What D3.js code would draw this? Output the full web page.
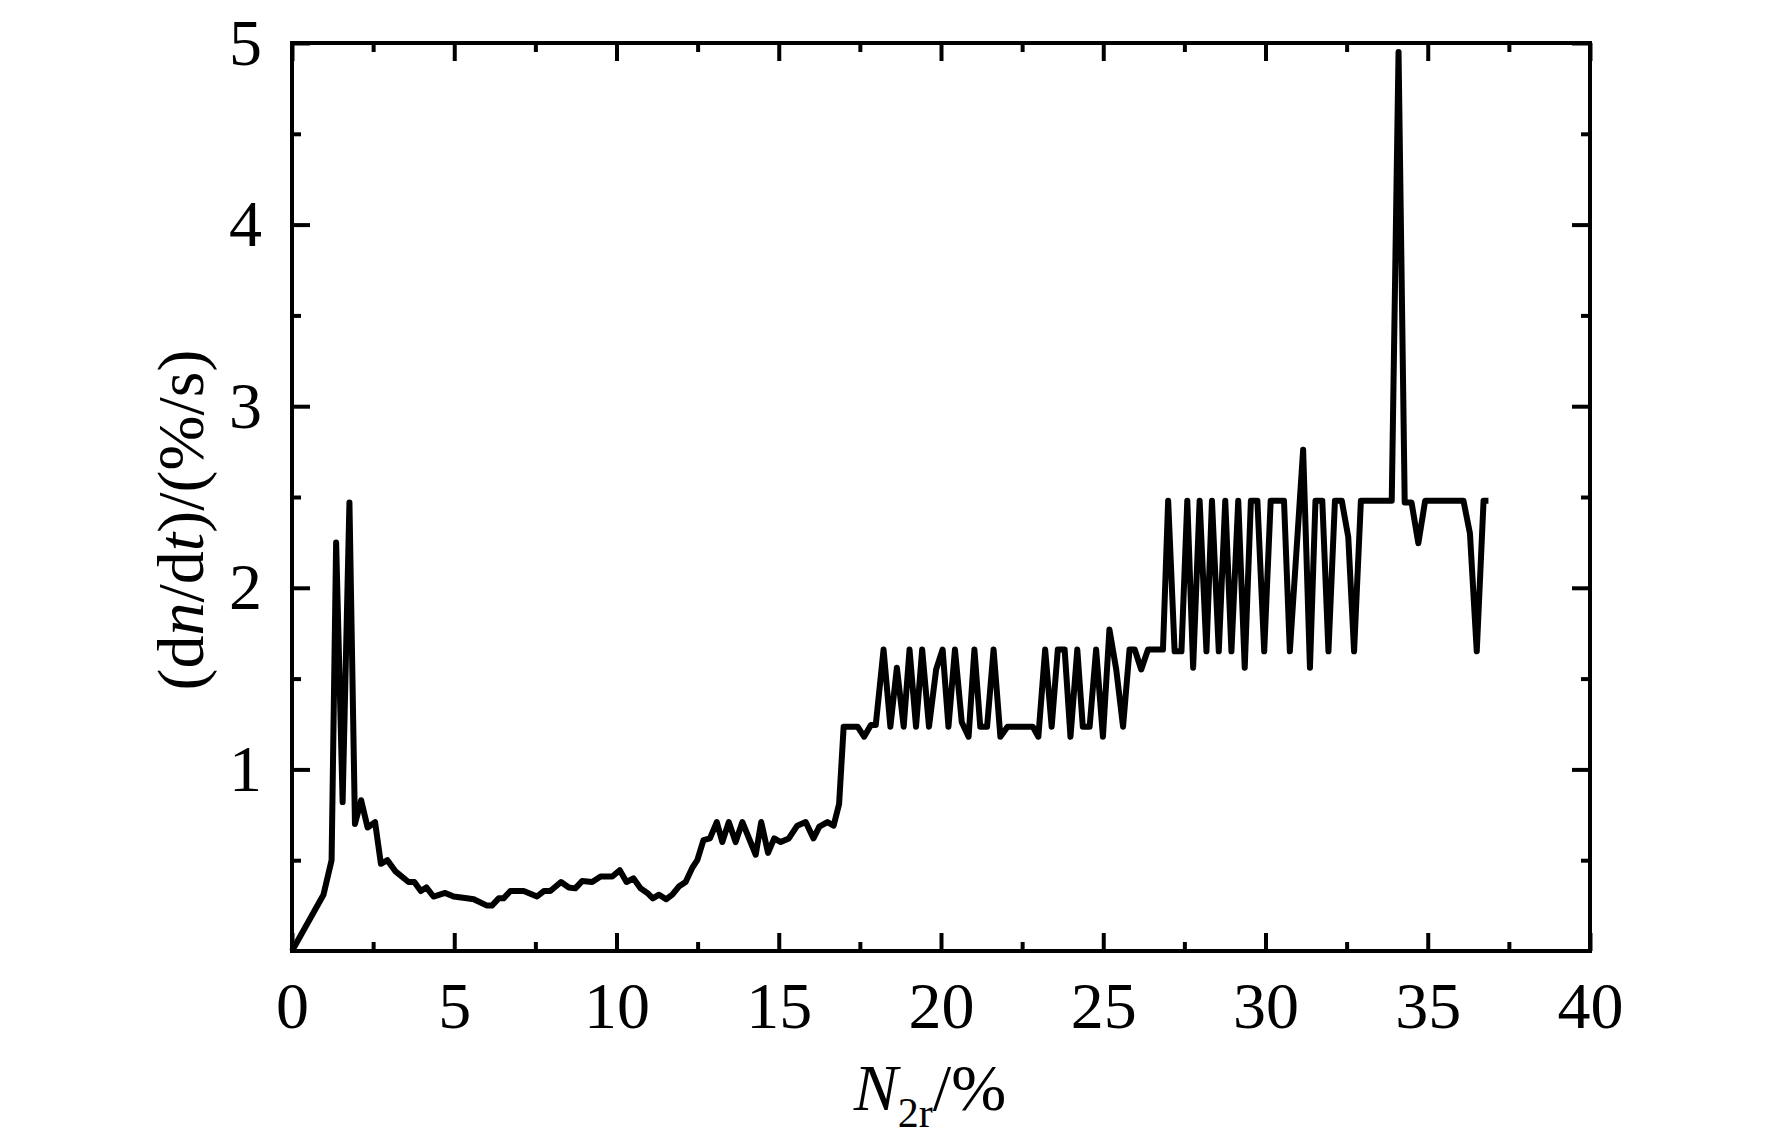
<!DOCTYPE html>
<html>

<head>
  <script src="https://d3js.org/d3.v7.min.js"></script>
  <style>
    body {
      margin: 0;
      background: #fff;
    }

    .chart text {
      font-family: "Liberation Serif", "Times New Roman", serif;
      fill: #000;
    }

    .axis path {
      display: none;
    }

    .axis line {
      stroke: #000;
      stroke-width: 4;
    }

    .tick-label {
      font-size: 66px;
    }

    .axis-label {
      font-size: 66px;
    }
  </style>
</head>

<body>
  <div id="chart"></div>

  <script>
    // N2r (%) readings
    const n2r = [
      0, 0.97, 1.22, 1.36, 1.56, 1.77, 1.94, 2.13, 2.33, 2.56, 2.74, 2.94, 3.18, 3.59, 3.77, 3.97,
      4.14, 4.36, 4.72, 4.98, 5.39, 5.60, 6.01, 6.16, 6.37, 6.52, 6.73, 7.14, 7.55, 7.76, 7.96,
      8.29, 8.53, 8.73, 8.94, 9.25, 9.51, 9.87, 10.10, 10.31, 10.52, 10.74, 10.95, 11.12, 11.31,
      11.53, 11.72, 11.92, 12.13, 12.34, 12.49, 12.68, 12.88, 13.09, 13.26, 13.46, 13.67, 13.88,
      14.29, 14.46, 14.67, 14.86, 15.06, 15.31, 15.57, 15.83, 16.07, 16.25, 16.50, 16.69, 16.86,
      17.0, 17.43, 17.63, 17.84, 17.99, 18.23, 18.44, 18.64, 18.85, 19.03, 19.23, 19.42, 19.63,
      19.85, 20.05, 20.23, 20.43, 20.64, 20.85, 21.03, 21.21, 21.42, 21.62, 21.83, 22.05, 22.83,
      23.0, 23.21, 23.41, 23.60, 23.81, 23.99, 24.20, 24.37, 24.58, 24.78, 24.99, 25.19, 25.40,
      25.61, 25.81, 25.97, 26.17, 26.38, 26.84, 27.0, 27.2, 27.41, 27.59, 27.77, 27.97, 28.18,
      28.35, 28.56, 28.76, 28.95, 29.16, 29.36, 29.55, 29.75, 29.96, 30.16, 30.57, 30.75, 31.16,
      31.37, 31.54, 31.75, 31.94, 32.14, 32.35, 32.55, 32.73, 32.94, 33.89, 34.1, 34.29, 34.5,
      34.71, 34.92, 36.1, 36.3, 36.51, 36.72, 36.87
    ];

    // dn/dt (%/s) readings, same order as n2r
    const rate = [
      0, 0.31, 0.50, 2.25, 0.82, 2.47, 0.70, 0.83, 0.68, 0.71, 0.48, 0.50, 0.44, 0.38, 0.38, 0.33,
      0.35, 0.30, 0.32, 0.30, 0.29, 0.285, 0.25, 0.25, 0.29, 0.29, 0.33, 0.33, 0.30, 0.33, 0.33,
      0.38, 0.35, 0.345, 0.385, 0.38, 0.41, 0.41, 0.445, 0.38, 0.40, 0.345, 0.32, 0.29, 0.31,
      0.285, 0.31, 0.355, 0.38, 0.46, 0.50, 0.61, 0.62, 0.71, 0.60, 0.71, 0.60, 0.71,
      0.53, 0.71, 0.54, 0.62, 0.60, 0.62, 0.69, 0.71, 0.62, 0.685, 0.71, 0.69, 0.81,
      1.235, 1.235, 1.18, 1.245, 1.245, 1.66, 1.235, 1.56, 1.235, 1.66, 1.235, 1.66, 1.235,
      1.55, 1.66, 1.235, 1.66, 1.26, 1.18, 1.66, 1.235, 1.235, 1.66, 1.18, 1.235, 1.235,
      1.18, 1.66, 1.235, 1.66, 1.66, 1.18, 1.66, 1.235, 1.235, 1.66, 1.18, 1.77, 1.55,
      1.235, 1.66, 1.66, 1.55, 1.66, 1.66, 2.48, 1.65, 1.65, 2.48, 1.56, 2.48, 1.65,
      2.48, 1.65, 2.48, 1.65, 2.48, 1.56, 2.48, 2.48, 1.65, 2.48, 2.48, 1.65, 2.76,
      1.56, 2.48, 2.48, 1.65, 2.48, 2.48, 2.28, 1.65, 2.48, 2.48, 4.95, 2.47, 2.47,
      2.245, 2.48, 2.48, 2.3, 1.65, 2.48, 2.48
    ];

    const xMajorTicks = [0, 5, 10, 15, 20, 25, 30, 35, 40];
    const xMinorTicks = [2.5, 7.5, 12.5, 17.5, 22.5, 27.5, 32.5, 37.5];
    const yMajorTicks = [1, 2, 3, 4, 5];
    const yMinorTicks = [0.5, 1.5, 2.5, 3.5, 4.5];

    const data = n2r.map((x, i) => ({ x: x, y: rate[i] }));

    const W = 1772, H = 1143;
    const margin = { top: 43, right: 182, bottom: 192, left: 292 },
      width = W - margin.left - margin.right,
      height = H - margin.top - margin.bottom;

    const svg = d3.select("#chart")
      .append("svg")
      .attr("class", "chart")
      .attr("width", W)
      .attr("height", H)
      .append("g")
      .attr("transform", `translate(${margin.left},${margin.top})`);

    const x = d3.scaleLinear().domain([0, 40]).range([0, width]);
    const y = d3.scaleLinear().domain([0, 5]).range([height, 0]);

    // bottom axis (ticks pointing in)
    const xAxis = svg.append("g")
      .attr("class", "axis")
      .attr("transform", `translate(0,${height})`)
      .call(d3.axisBottom(x).tickValues(xMajorTicks).tickSize(-18).tickPadding(30).tickFormat(d3.format("d")));
    xAxis.selectAll("text").attr("class", "tick-label");
    svg.append("g")
      .attr("class", "axis")
      .attr("transform", `translate(0,${height})`)
      .call(d3.axisBottom(x).tickValues(xMinorTicks).tickSize(-9).tickFormat(""));

    // top axis, no labels
    svg.append("g")
      .attr("class", "axis")
      .call(d3.axisTop(x).tickValues(xMajorTicks).tickSize(-18).tickFormat(""));
    svg.append("g")
      .attr("class", "axis")
      .call(d3.axisTop(x).tickValues(xMinorTicks).tickSize(-9).tickFormat(""));

    // left axis
    const yAxis = svg.append("g")
      .attr("class", "axis")
      .call(d3.axisLeft(y).tickValues(yMajorTicks).tickSize(-18).tickPadding(30).tickFormat(d3.format("d")));
    yAxis.selectAll("text").attr("class", "tick-label");
    svg.append("g")
      .attr("class", "axis")
      .call(d3.axisLeft(y).tickValues(yMinorTicks).tickSize(-9).tickFormat(""));

    // right axis, no labels
    svg.append("g")
      .attr("class", "axis")
      .attr("transform", `translate(${width},0)`)
      .call(d3.axisRight(y).tickValues(yMajorTicks).tickSize(-18).tickFormat(""));
    svg.append("g")
      .attr("class", "axis")
      .attr("transform", `translate(${width},0)`)
      .call(d3.axisRight(y).tickValues(yMinorTicks).tickSize(-9).tickFormat(""));

    // frame
    svg.append("rect")
      .attr("x", 0)
      .attr("y", 0)
      .attr("width", width)
      .attr("height", height)
      .attr("fill", "none")
      .attr("stroke", "#000")
      .attr("stroke-width", 4);

    // the curve
    const line = d3.line()
      .x(d => x(d.x))
      .y(d => y(d.y));

    svg.append("path")
      .datum(data)
      .attr("fill", "none")
      .attr("stroke", "#000")
      .attr("stroke-width", 6)
      .attr("stroke-linejoin", "round")
      .attr("d", line);

    // x label: N_2r/%
    const xl = svg.append("text")
      .attr("class", "axis-label")
      .attr("text-anchor", "middle")
      .attr("x", 638)
      .attr("y", 1110 - margin.top);
    xl.append("tspan").attr("font-style", "italic").text("N");
    xl.append("tspan").attr("font-size", "42px").attr("dy", "17").text("2r");
    xl.append("tspan").attr("dy", "-17").text("/%");

    // y label: (dn/dt)/(%/s)
    const yl = svg.append("text")
      .attr("class", "axis-label")
      .attr("text-anchor", "middle")
      .attr("transform", `translate(${203 - margin.left},${520 - margin.top}) rotate(-90)`);
    yl.append("tspan").text("(d");
    yl.append("tspan").attr("font-style", "italic").text("n");
    yl.append("tspan").text("/d");
    yl.append("tspan").attr("font-style", "italic").text("t");
    yl.append("tspan").text(")/(%/s)");
  </script>
</body>

</html>
